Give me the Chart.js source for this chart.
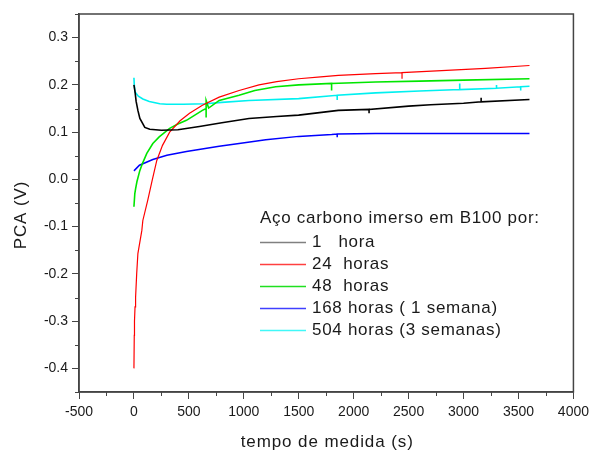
<!DOCTYPE html>
<html>
<head>
<meta charset="utf-8">
<script src="https://cdn.jsdelivr.net/npm/chart.js@4.4.1/dist/chart.umd.min.js"></script>
<style>
    html, body { margin: 0; padding: 0; background: #fff; }
    #wrap { width: 594px; height: 452px; position: relative; }
</style>
</head>
<body>
<div id="wrap"><canvas id="chart"></canvas></div>
<script>
// ---- data ----
const seriesLabels = ['1   hora', '24  horas', '48  horas', '168 horas ( 1 semana)', '504 horas (3 semanas)'];
const seriesColors = ['#000000', '#ff0000', '#00e600', '#0000ff', '#00f0f0'];
const legendColors = ['#808080', '#ff4040', '#20e020', '#4040ff', '#40f8f8'];
const seriesWidths = [1.6, 1.2, 1.6, 1.5, 1.6];

const t1h = [0, 10, 20, 36, 54, 99, 144, 250, 400, 596, 800, 1047, 1300, 1499, 1860, 2140, 2140, 2140, 2500, 2700, 3000, 3160, 3160, 3160, 3600];
const v1h = [0.2, 0.185, 0.165, 0.146, 0.129, 0.11, 0.106, 0.104, 0.105, 0.112, 0.12, 0.129, 0.133, 0.136, 0.146, 0.148, 0.14, 0.148, 0.155, 0.158, 0.161, 0.164, 0.173, 0.164, 0.169];

const t24h = [0, 3, 5, 10, 15, 25, 36, 72, 81, 126, 168, 208, 260, 325, 420, 506, 623, 776, 957, 1138, 1300, 1499, 1700, 1860, 2200, 2440, 2440, 2440, 2800, 3200, 3600];
const v24h = [-0.4, -0.33, -0.3, -0.27, -0.25, -0.2, -0.157, -0.108, -0.087, -0.044, 0.0, 0.04, 0.072, 0.1, 0.124, 0.14, 0.157, 0.174, 0.188, 0.2, 0.207, 0.213, 0.217, 0.22, 0.224, 0.226, 0.213, 0.226, 0.23, 0.235, 0.241];

const t48h = [0, 8, 15, 27, 54, 80, 117, 172, 230, 325, 400, 478, 623, 657, 657, 657, 680, 776, 957, 1100, 1290, 1500, 1799, 1799, 1799, 2200, 2600, 3000, 3600];
const v48h = [-0.058, -0.03, -0.02, -0.005, 0.019, 0.035, 0.055, 0.076, 0.09, 0.108, 0.117, 0.125, 0.146, 0.15, 0.131, 0.167, 0.151, 0.167, 0.178, 0.188, 0.196, 0.2, 0.203, 0.188, 0.203, 0.206, 0.208, 0.21, 0.213];

const t168h = [0, 50, 172, 300, 478, 776, 957, 1200, 1500, 1800, 1850, 1850, 1850, 2200, 2600, 3000, 3600];
const v168h = [0.018, 0.03, 0.042, 0.051, 0.059, 0.07, 0.076, 0.084, 0.091, 0.095, 0.096, 0.089, 0.096, 0.097, 0.097, 0.097, 0.097];

const t504h = [0, 3, 10, 40, 81, 140, 235, 298, 450, 650, 800, 1047, 1499, 1850, 1850, 1850, 2200, 2600, 2965, 2965, 2965, 3300, 3300, 3300, 3520, 3520, 3520, 3600];
const v504h = [0.215, 0.2, 0.185, 0.176, 0.17, 0.165, 0.16, 0.159, 0.159, 0.16, 0.163, 0.167, 0.171, 0.178, 0.168, 0.178, 0.183, 0.187, 0.19, 0.203, 0.19, 0.193, 0.2, 0.193, 0.196, 0.188, 0.196, 0.197];

const xMajorTicks = [-500, 0, 500, 1000, 1500, 2000, 2500, 3000, 3500, 4000];
const xMinorTicks = [-250, 250, 750, 1250, 1750, 2250, 2750, 3250, 3750];
const yMajorTicks = [-0.4, -0.3, -0.2, -0.1, 0.0, 0.1, 0.2, 0.3];
const yMinorTicks = [-0.45, -0.35, -0.25, -0.15, -0.05, 0.05, 0.15, 0.25, 0.35];

const xTitle = 'tempo de medida (s)';
const yTitle = 'PCA (V)';
const legendTitle = 'Aço carbono imerso em B100 por:';

const FONT = "'Liberation Sans', Arial, sans-serif";
const FRAME = '#444444';
const TEXT = '#1a1a1a';

function toPoints(ts, vs) { return ts.map((t, i) => ({ x: t, y: vs[i] })); }
const allSeries = [[t1h, v1h], [t24h, v24h], [t48h, v48h], [t168h, v168h], [t504h, v504h]];

// frame, minor ticks, axis titles and the in-plot legend
const framePlugin = {
    id: 'frame',
    afterDraw(chart) {
        const { ctx, chartArea: a, scales } = chart;
        ctx.save();
        ctx.strokeStyle = FRAME;
        ctx.lineWidth = 1.5;
        ctx.strokeRect(a.left, a.top, a.right - a.left, a.bottom - a.top);
        ctx.lineWidth = 1;
        xMinorTicks.forEach(v => {
            const x = Math.round(scales.x.getPixelForValue(v)) + 0.5;
            ctx.beginPath(); ctx.moveTo(x, a.bottom); ctx.lineTo(x, a.bottom + 4); ctx.stroke();
        });
        yMinorTicks.forEach(v => {
            const y = Math.round(scales.y.getPixelForValue(v)) + 0.5;
            ctx.beginPath(); ctx.moveTo(a.left, y); ctx.lineTo(a.left - 4, y); ctx.stroke();
        });

        ctx.font = '17px ' + FONT;
        ctx.fillStyle = TEXT;
        ctx.textBaseline = 'middle';

        // axis titles
        ctx.letterSpacing = '0.9px';
        ctx.textAlign = 'center';
        ctx.fillText(xTitle, (a.left + a.right) / 2 + 1, 442);
        ctx.save();
        ctx.translate(21, (a.top + a.bottom) / 2 + 12);
        ctx.rotate(-Math.PI / 2);
        ctx.fillText(yTitle, 0, 0);
        ctx.restore();

        // legend
        ctx.letterSpacing = '0.7px';
        ctx.textAlign = 'left';
        ctx.fillText(legendTitle, 260, 218);
        chart.data.datasets.forEach((ds, i) => {
            const y = 241.5 + i * 22;
            ctx.strokeStyle = legendColors[i];
            ctx.lineWidth = 1.3;
            ctx.beginPath(); ctx.moveTo(260, Math.round(y) + 0.5); ctx.lineTo(306, Math.round(y) + 0.5); ctx.stroke();
            ctx.fillText(ds.label, 312, y + 1);
        });
        ctx.restore();
    }
};

new Chart(document.getElementById('chart').getContext('2d'), {
    type: 'scatter',
    data: {
        datasets: allSeries.map(([ts, vs], i) => ({
            label: seriesLabels[i],
            data: toPoints(ts, vs),
            showLine: true,
            borderColor: seriesColors[i],
            backgroundColor: seriesColors[i],
            borderWidth: seriesWidths[i],
            pointRadius: 0,
            tension: 0
        }))
    },
    options: {
        responsive: true, maintainAspectRatio: false, animation: false,
        layout: { padding: { left: 0, right: 17, top: 14, bottom: 0 } },
        plugins: { legend: { display: false }, tooltip: { enabled: false } },
        scales: {
            x: {
                type: 'linear', min: -500, max: 4000,
                afterBuildTicks: s => { s.ticks = xMajorTicks.map(v => ({ value: v })); },
                afterFit: s => { s.height = 60; },
                ticks: { color: TEXT, font: { family: FONT, size: 14 }, padding: 5, maxRotation: 0,
                    callback: v => String(v) },
                grid: { drawOnChartArea: false, drawTicks: true, tickLength: 7, color: FRAME, lineWidth: 1 },
                border: { color: FRAME, width: 1.5 }
            },
            y: {
                type: 'linear', min: -0.45, max: 0.35,
                afterBuildTicks: s => { s.ticks = yMajorTicks.map(v => ({ value: v })); },
                afterFit: s => { s.width = 79; },
                ticks: { color: TEXT, font: { family: FONT, size: 14 }, padding: 4,
                    callback: v => v.toFixed(1) },
                grid: { drawOnChartArea: false, drawTicks: true, tickLength: 7, color: FRAME, lineWidth: 1 },
                border: { color: FRAME, width: 1.5 }
            }
        }
    },
    plugins: [framePlugin]
});
</script>
</body>
</html>
